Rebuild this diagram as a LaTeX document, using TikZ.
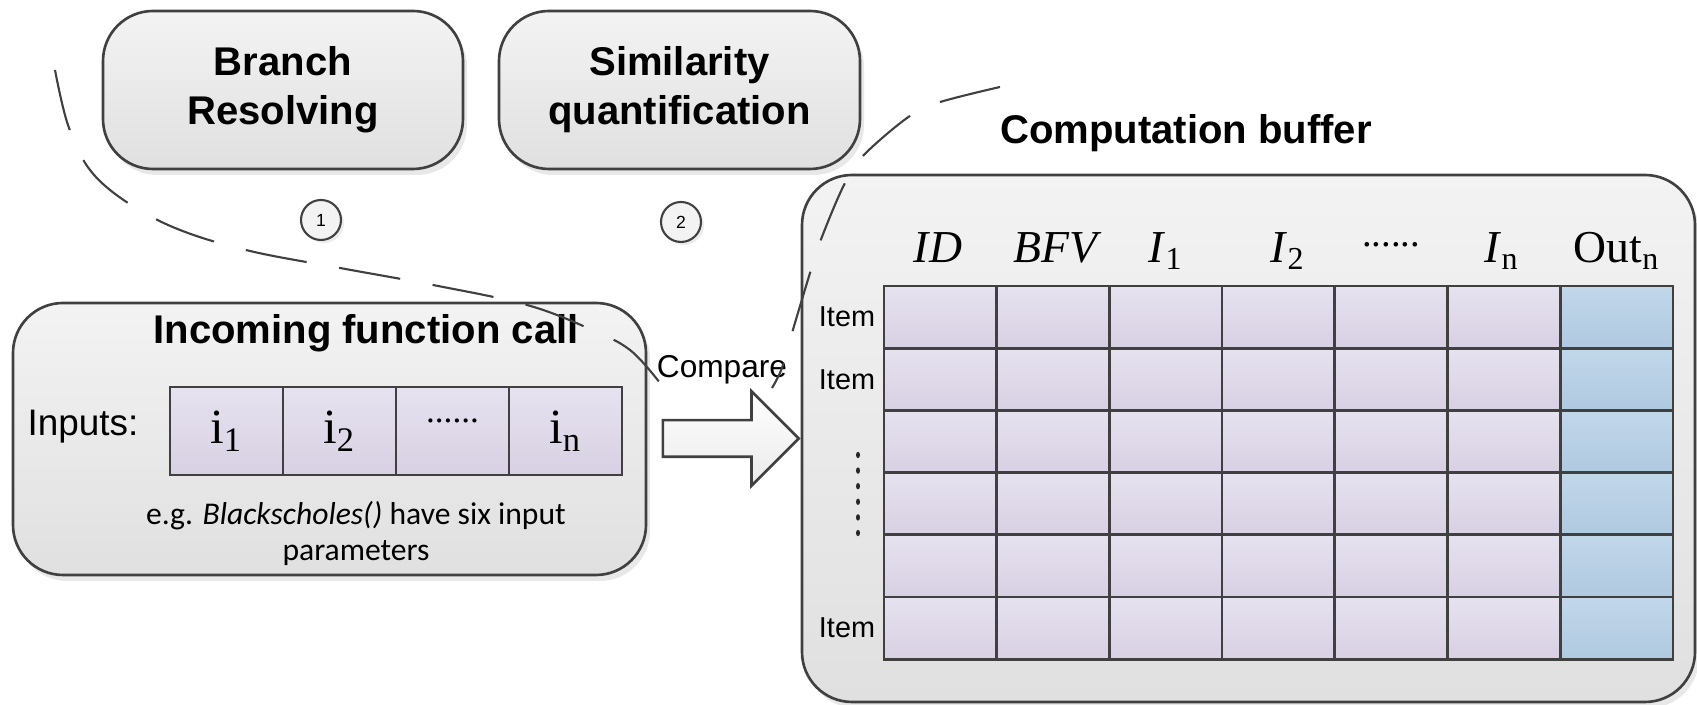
\documentclass[tikz,border=0pt]{standalone}
\usepackage{fontspec}
\setmainfont{Liberation Sans}
\newfontfamily\tnr{Liberation Serif}
\newfontfamily\calib{Carlito}
\usetikzlibrary{shapes.arrows,shadows}

\definecolor{edge}{HTML}{404040}
\definecolor{paneltop}{HTML}{F3F3F3}
\definecolor{panelbot}{HTML}{E0E0E0}
\definecolor{celltop}{HTML}{E6E2EF}
\definecolor{cellbot}{HTML}{D8D0E3}
\definecolor{outtop}{HTML}{C2D7EA}
\definecolor{outbot}{HTML}{AFC9E0}

\begin{document}
\begin{tikzpicture}
    [x=1cm,y=1cm,
     panel/.style={draw=edge,line width=.75pt,rounded corners=.5cm,top color=paneltop,bottom color=panelbot,
       drop shadow={shadow xshift=.04cm,shadow yshift=-.06cm,opacity=.18}},
     title/.style={font=\bfseries\fontsize{11.4}{13.9}\selectfont},
     num/.style={circle,draw=edge,line width=.6pt,fill=paneltop,minimum size=.4cm,inner sep=0pt,
       font=\fontsize{5}{6}\selectfont,drop shadow={shadow xshift=.03cm,shadow yshift=-.03cm,opacity=.15}},
     cell/.style={draw=edge,line width=.75pt,inner sep=0pt,minimum width=1.127cm,minimum height=.622cm,
       top color=celltop,bottom color=cellbot},
     outcell/.style={cell,top color=outtop,bottom color=outbot},
     incell/.style={cell,minimum width=1.13cm,minimum height=.88cm,font=\tnr\fontsize{14}{16}\selectfont},
     head/.style={anchor=base,font=\tnr\fontsize{13}{15}\selectfont},
     item/.style={font=\fontsize{8.2}{10}\selectfont},
     callout/.style={draw=edge,line width=.6pt,dash pattern=on .62cm off .33cm}]
    \useasboundingbox (0,0) rectangle (16.97,7.05);

    \node[panel,title,minimum width=3.6cm,minimum height=1.58cm,align=center] (branch) at (2.83,6.15) {Branch\\Resolving};
    \node[panel,title,minimum width=3.61cm,minimum height=1.58cm,align=center] (simq) at (6.795,6.15) {Similarity\\quantification};
    \node[num] (n1) at (3.21,4.85) {1};
    \node[num] (n2) at (6.81,4.83) {2};

    \node[panel,minimum width=6.33cm,minimum height=2.72cm] (call) at (3.295,2.66) {};
    \node[title] (calltitle) at (3.66,3.72) {Incoming function call};
    \node[font=\fontsize{10.5}{12}\selectfont] (inlabel) at (0.83,2.78) {Inputs:};
    \node[incell] (i1) at (2.265,2.74) {i\textsubscript{1}};
    \node[incell] (i2) at (3.395,2.74) {i\textsubscript{2}};
    \node[incell] (i3) at (4.525,2.74) {\raisebox{.4em}{\fontsize{10}{12}\selectfont......}};
    \node[incell] (in) at (5.655,2.74) {i\textsubscript{n}};
    \node[font=\calib\fontsize{9}{10.5}\selectfont,align=center] (note) at (3.56,1.715)
      {e.g. \textit{Blackscholes()} have six input\\parameters};

    \node[panel,minimum width=8.93cm,minimum height=5.27cm] (buffer) at (12.485,2.665) {};
    \node[title] (buftitle) at (11.86,5.72) {Computation buffer};

    \node[single arrow,draw=edge,line width=.75pt,top color=white,bottom color=black!8,inner xsep=0pt,inner ysep=.17cm,
      minimum height=1.36cm,single arrow head extend=.29cm,anchor=tip] (cmp) at (buffer.west) {};
    \node[font=\fontsize{9}{10}\selectfont] (cmplabel) at (7.22,3.35) {Compare};

    \foreach \r in {1,...,6} {
      \foreach \c in {1,...,6}
        \node[cell] (c\r\c) at ({8.84+(\c-.5)*1.127},{4.19-(\r-.5)*.622}) {};
      \node[outcell] (c\r7) at ({8.84+6.5*1.127},{4.19-(\r-.5)*.622}) {};
    }

    \node[head] (hid) at (9.38,4.42) {\textit{ID}};
    \node[head] (hbfv) at (10.58,4.42) {\textit{BFV}};
    \node[head] (hi1) at (11.66,4.42) {\textit{I}\textsubscript{1}};
    \node[head] (hi2) at (12.88,4.42) {\textit{I}\textsubscript{2}};
    \node[head] (hdots) at (13.91,4.42) {\raisebox{.35em}{\fontsize{11}{12}\selectfont......}};
    \node[head] (hin) at (15.02,4.42) {\textit{I}\textsubscript{n}};
    \node[head] (hout) at (16.17,4.42) {Out\textsubscript{n}};

    \node[item] (it1) at (8.47,3.879) {Item};
    \node[item] (it2) at (8.47,3.257) {Item};
    \node[item] (it6) at (8.47,0.769) {Item};
    \foreach \k in {0,...,5}
      \fill[black!85] (8.58,{2.50-\k*.156}) ellipse (.02 and .032);

    \draw[callout] plot[smooth,tension=.6] coordinates {(0.55,6.35) (0.68,5.80) (0.90,5.35) (1.28,5.02) (1.80,4.75)
      (2.50,4.54) (3.40,4.37) (4.33,4.20) (5.27,4.00) (5.90,3.76) (6.30,3.55) (6.60,3.22)};
    \draw[callout] plot[smooth,tension=.6] coordinates {(10.00,6.18) (9.37,6.02) (9.07,5.87) (8.62,5.48) (8.43,5.18)
      (8.20,4.63) (8.10,4.32) (7.92,3.72) (7.82,3.37) (7.72,3.17)};
  \end{tikzpicture}
\end{document}
